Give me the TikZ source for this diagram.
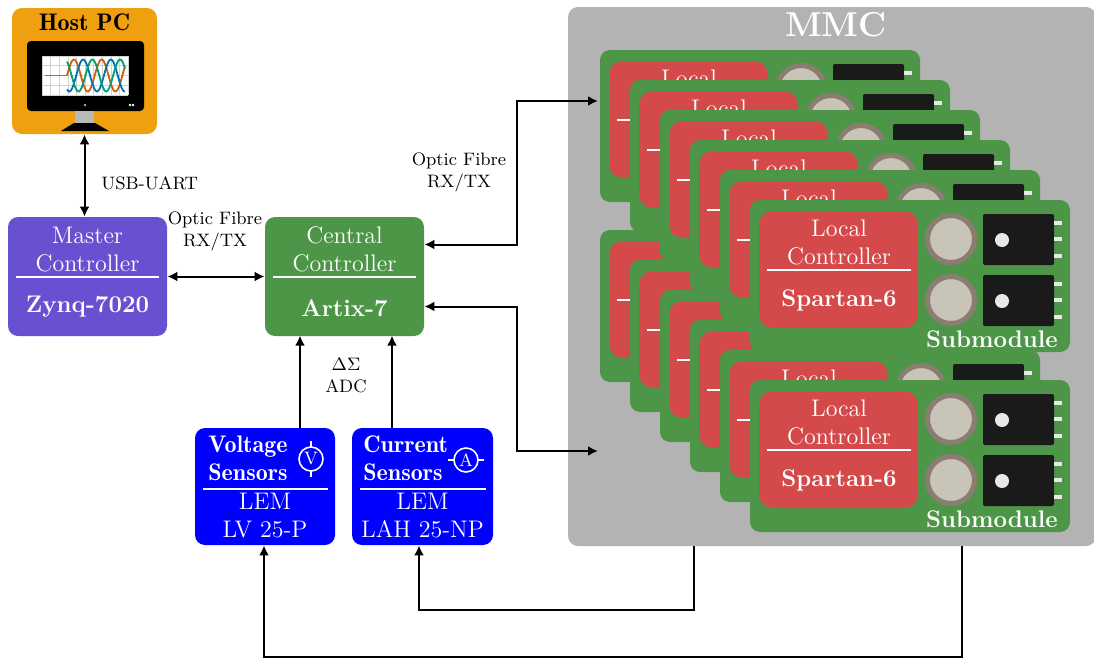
\documentclass[tikz,border=0pt]{standalone}
\usepackage{amsmath}
\usetikzlibrary{arrows.meta,calc,positioning}

\definecolor{hostorange}{RGB}{238,160,16}
\definecolor{masterpurple}{RGB}{104,80,208}
\definecolor{boardgreen}{RGB}{77,150,72}
\definecolor{fpgared}{RGB}{212,74,74}
\definecolor{mmcgray}{RGB}{179,179,179}
\definecolor{capring}{RGB}{140,125,115}
\definecolor{capfill}{RGB}{200,196,184}
\definecolor{igbtblack}{RGB}{26,26,26}
\definecolor{pinwhite}{RGB}{232,232,232}
\definecolor{waveorange}{RGB}{213,94,0}
\definecolor{waveblue}{RGB}{0,114,178}
\definecolor{wavegreen}{RGB}{0,158,115}

% semi-bold roman (Latin Modern Demi)
\newcommand{\demibold}{\fontseries{b}\selectfont}

\tikzset{
    block/.style = {
        rectangle,
        rounded corners=5pt,
        inner sep=0pt,
        },
    ctrl/.style = {
        block,
        minimum width=79.5pt,
        minimum height=59.5pt,
        },
    sensor/.style = {
        block,
        fill=blue,
        minimum height=58.5pt,
        },
    board/.style = {
        block,
        fill=boardgreen,
        minimum width=160pt,
        minimum height=76pt,
        },
    fpga/.style = {
        block,
        rounded corners=7pt,
        fill=fpgared,
        minimum width=79.5pt,
        minimum height=58.5pt,
        },
    white text/.style = {
        text=white,
        font=\large,
        inner sep=0pt,
        align=center,
        },
    bold text/.style = {
        white text,
        font=\large\bfseries,
        },
    demi text/.style = {
        white text,
        font=\large\demibold,
        },
    rule/.style = {
        white,
        line width=1pt,
        },
    wire label/.style = {
        font=\small,
        align=center,
        inner sep=0pt,
        },
    link/.style = {
        line width=1pt,
        {Latex[length=5pt,width=5pt]}-{Latex[length=5pt,width=5pt]},
        },
    feed/.style = {
        line width=1pt,
        -{Latex[length=5pt,width=5pt]},
        },
    meter/.style = {
        white,
        line width=0.8pt,
        },
    submodule/.pic = {
        \node[board] (-board) at (160,76) {};
        \node[fpga] (-fpga) at (88.5,69.5) {};
        \node[white text] at (89,42.5) {Local\\Controller};
        \draw[rule] (17,70) -- (161,70);
        \node[bold text] at (89,100) {Spartan-6};
        \foreach \dy in {0,61} {
            \draw[capring, fill=capfill, line width=2.5pt] (201,39+\dy) circle (11.75pt);
            \fill[igbtblack, rounded corners=1pt] (233,14+\dy) rectangle (304,65+\dy);
            \fill[pinwhite] (252,40+\dy) circle (3.5pt);
            \foreach \py in {23,39,56}
                \fill[pinwhite] (304,\py+\dy-2) rectangle (312,\py+\dy+2);
        }
        \node[bold text] at (242,139) {Submodule};
        },
}

\begin{document}
\begin{tikzpicture}[x=0.5pt,y=-0.5pt]
    \useasboundingbox (0,0) rectangle (1094,659);

    % converter with its two arms of submodules
    \node[block, fill=mmcgray, minimum width=264pt, minimum height=269.5pt] (mmc) at (832,276.5) {};
    \node[white text, font=\LARGE\bfseries] (mmc title) at (836,25) {MMC};
    \foreach \i in {0,...,5}
        \pic (bot\i) at (600+30*\i,230+30*\i) {submodule};
    \foreach \i in {0,...,5}
        \pic (top\i) at (600+30*\i,50+30*\i) {submodule};

    % host pc
    \node[block, fill=hostorange, minimum width=72.5pt, minimum height=63pt] (host) at (84.5,71) {};
    \node[font=\large\demibold, inner sep=0pt] (host title) at (84.5,22) {Host PC};
    \fill[black, rounded corners=2pt] (27,41) rectangle (144,111);
    \fill[white] (42,56) rectangle (128,95);
    \foreach \i in {0,...,10}
        \draw[gray!35, line width=0.3pt] (42+8.6*\i,56) -- (42+8.6*\i,95);
    \foreach \i in {0,...,4}
        \draw[gray!35, line width=0.3pt] (42,56+9.75*\i) -- (128,56+9.75*\i);
    \draw[waveorange, line width=0.9pt] (45,75.5) -- (67,75.5);
    \draw[waveorange, line width=0.9pt, domain=67:125, samples=60] plot (\x,{75.5-16*sin(13*(\x-67))});
    \draw[waveblue, line width=0.9pt, domain=67:125, samples=60] plot (\x,{75.5-16*sin(13*(\x-67)-120)});
    \draw[wavegreen, line width=0.9pt, domain=67:125, samples=60] plot (\x,{75.5-16*sin(13*(\x-67)+120)});
    \fill[gray!60] (85,105) circle (0.7pt);
    \fill[white] (130,105) circle (0.7pt);
    \fill[white] (133,105) circle (0.7pt);
    \fill[gray!55] (75,111) rectangle (94,123);
    \fill[black] (61,131) -- (109,131) -- (95,123) -- (74,123) -- cycle;

    % controllers
    \node[ctrl, fill=masterpurple] (master) at (87.5,276.5) {};
    \node[white text] at (87.5,249.5) {Master\\Controller};
    \draw[rule] (16,277) -- (159,277);
    \node[bold text] at (87.5,307) {Zynq-7020};

    \node[ctrl, fill=boardgreen] (central) at (344.5,276.5) {};
    \node[white text] at (344.5,249.5) {Central\\Controller};
    \draw[rule] (273,277) -- (416,277);
    \node[bold text] at (344.5,308) {Artix-7};

    % sensors
    \node[sensor, minimum width=70pt] (vsens) at (265,486.5) {};
    \node[demi text, anchor=west, align=left] at (208,458.5) {Voltage\\Sensors};
    \draw[rule] (203,489) -- (328,489);
    \node[white text] at (265,516) {LEM\\LV 25-P};
    \draw[meter] (311,459) circle (6pt);
    \draw[meter] (311,441) -- (311,447) (311,471) -- (311,477);
    \node[text=white, font=\small, inner sep=0pt] at (311,459) {V};

    \node[sensor, minimum width=70.5pt] (isens) at (422.5,486.5) {};
    \node[demi text, anchor=west, align=left] at (363,458.5) {Current\\Sensors};
    \draw[rule] (360,489) -- (486,489);
    \node[white text] at (422.5,516) {LEM\\LAH 25-NP};
    \draw[meter] (466,460) circle (6pt);
    \draw[meter] (448,460) -- (454,460) (478,460) -- (484,460);
    \node[text=white, font=\small, inner sep=0pt] at (466,460) {A};

    % links
    \draw[link] (host.south) -- (host.south |- master.north);
    \node[wire label, anchor=west] at (101,183) {USB-UART};
    \draw[link] (master.east) -- (central.west);
    \node[wire label] at (215,231) {Optic Fibre\\RX/TX};

    \coordinate (top in) at (598,101);
    \coordinate (bot in) at (598,451);
    \draw[link] ([yshift=16pt]central.east) -- ++(93,0) |- (top in);
    \draw[link] ([yshift=-15pt]central.east) -- ++(93,0) |- (bot in);
    \node[wire label] at (459,172) {Optic Fibre\\RX/TX};

    \draw[feed] ([xshift=17.5pt]vsens.north) -- ++(0,-92);
    \draw[feed] ([xshift=-15.25pt]isens.north) -- ++(0,-92);
    \node[wire label] at (346,376) {$\Delta\Sigma$\\ADC};

    \coordinate (i meas) at (694,546);
    \coordinate (v meas) at (962,546);
    \draw[feed] (i meas) -- ++(0,64) -| ([xshift=-1.75pt]isens.south);
    \draw[feed] (v meas) -- ++(0,111) -| ([xshift=-0.5pt]vsens.south);
\end{tikzpicture}
\end{document}
